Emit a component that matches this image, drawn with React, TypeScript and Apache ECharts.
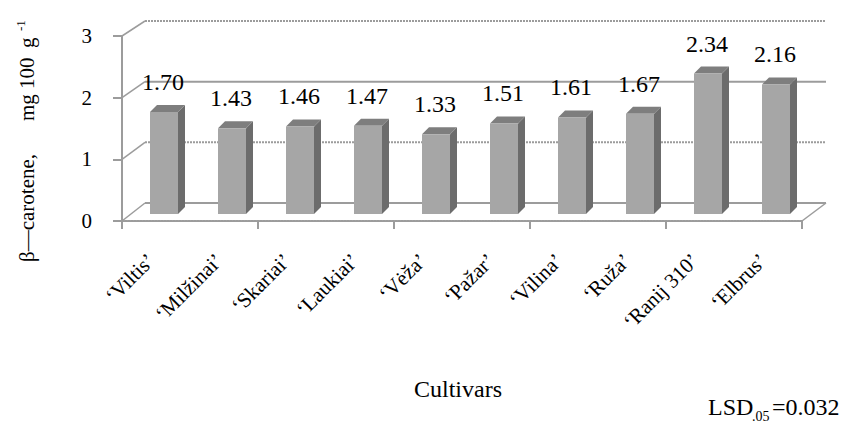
import React, { useEffect, useRef } from "react";
import * as echarts from "echarts";

const cultivars = [
  "‘Viltis’",
  "‘Milžinai’",
  "‘Skariai’",
  "‘Laukiai’",
  "‘Vėža’",
  "‘Pažar’",
  "‘Vilina’",
  "‘Ruža’",
  "‘Ranij 310’",
  "‘Elbrus’",
];
const betaCarotene = [1.7, 1.43, 1.46, 1.47, 1.33, 1.51, 1.61, 1.67, 2.34, 2.16];
const yTicks = [0, 1, 2, 3];
const xTitle = "Cultivars";
const lsdText = ["LSD", ".05", "=0.032"];

const SERIF = "Liberation Serif";

export default function App() {
  const ref = useRef<HTMLDivElement>(null);

  useEffect(() => {
    if (!ref.current) return;
    const chart = echarts.init(ref.current, null, { renderer: "svg" });

    const gray = "#9c9c9c";

    const frameRender = (params: any, api: any) => {
      const v = api.value(1);
      const p = api.coord([0, v]);
      const cs = params.coordSys;
      const y = p[1];
      const left = cs.x;
      const right = cs.x + cs.width;
      const dy = 18 - v;
      const dashed = v === 3 || v === 1;
      const children: any[] = [
        {
          type: "line",
          shape: { x1: left, y1: y, x2: right, y2: y },
          style: { stroke: gray, lineWidth: 2, lineDash: dashed ? [2, 1] : null },
        },
        {
          type: "line",
          shape: { x1: left, y1: y, x2: left - 23, y2: y + dy },
          style: { stroke: gray, lineWidth: 1.5 },
        },
      ];
      if (v === 0) {
        children.push({
          type: "line",
          shape: { x1: right, y1: y, x2: right - 24, y2: y + dy },
          style: { stroke: gray, lineWidth: 1.5 },
        });
      }
      return { type: "group", children };
    };

    const barRender = (params: any, api: any) => {
      const i = api.value(0);
      const v = api.value(1);
      const base = api.coord([i, 0]);
      const top = api.coord([i, v]);
      const cx = base[0];
      const hw = 14;
      const d = 7;
      const yb = base[1];
      const yt = top[1];
      return {
        type: "group",
        children: [
          {
            type: "polygon",
            shape: {
              points: [
                [cx + hw, yt],
                [cx + hw + d, yt - d],
                [cx + hw + d, yb - d],
                [cx + hw, yb],
              ],
            },
            style: { fill: "#6c6c6c" },
          },
          {
            type: "polygon",
            shape: {
              points: [
                [cx - hw, yt],
                [cx - hw + d, yt - d],
                [cx + hw + d, yt - d],
                [cx + hw, yt],
              ],
            },
            style: { fill: "#7e7e7e" },
          },
          {
            type: "rect",
            shape: { x: cx - hw, y: yt, width: hw * 2, height: yb - yt },
            style: { fill: "#a6a6a6" },
          },
          {
            type: "text",
            style: {
              text: v.toFixed(2),
              x: cx - 1,
              y: yt - d - 23,
              align: "center",
              verticalAlign: "middle",
              textAlign: "center",
              textVerticalAlign: "middle",
              fontFamily: SERIF,
              fontSize: 24,
              fill: "#000",
            },
          },
        ],
      };
    };

    const catLabelRender = (params: any, api: any) => {
      const i = api.value(0);
      const p = api.coord([i, 0]);
      return {
        type: "text",
        x: p[0] - 5,
        y: p[1] + 36,
        rotation: Math.PI / 4,
        style: {
          text: cultivars[i],
          align: "right",
          verticalAlign: "middle",
          textAlign: "right",
          textVerticalAlign: "middle",
          fontFamily: SERIF,
          fontSize: 21,
          fill: "#000",
        },
      };
    };

    const rotText = (text: string, x: number, y: number, size: number) => ({
      type: "text",
      x,
      y,
      rotation: Math.PI / 2,
      style: {
        text,
        align: "left",
        verticalAlign: "middle",
        textAlign: "left",
        textVerticalAlign: "middle",
        fontFamily: SERIF,
        fontSize: size,
        fill: "#000",
      },
    });

    const hText = (text: string, x: number, y: number, size: number, align = "left") => ({
      type: "text",
      x,
      y,
      style: {
        text,
        align,
        verticalAlign: "middle",
        textAlign: align,
        textVerticalAlign: "middle",
        fontFamily: SERIF,
        fontSize: size,
        fill: "#000",
      },
    });

    const option: any = {
      animation: false,
      backgroundColor: "#ffffff",
      textStyle: { fontFamily: SERIF },
      grid: [
        { left: 122, top: 36, width: 680, height: 185 },
        { left: 145, top: 21, width: 681, height: 182 },
        { left: 130, top: 34, width: 680, height: 180 },
      ],
      xAxis: [
        {
          type: "category",
          gridIndex: 0,
          data: cultivars,
          axisLine: { show: true, lineStyle: { color: gray, width: 2, type: [2, 1] } },
          axisTick: { show: true, length: 8, lineStyle: { color: gray, width: 2 } },
          axisLabel: { show: false },
          splitLine: { show: false },
        },
        { type: "category", gridIndex: 1, data: cultivars, show: false },
        { type: "category", gridIndex: 2, data: cultivars, show: false },
      ],
      yAxis: [
        {
          type: "value",
          gridIndex: 0,
          min: 0,
          max: 3,
          interval: 1,
          axisLine: { show: true, lineStyle: { color: gray, width: 2 } },
          axisTick: { show: true, length: 9, lineStyle: { color: gray, width: 2 } },
          axisLabel: { margin: 30, fontSize: 21, fontFamily: SERIF, color: "#000" },
          splitLine: { show: false },
        },
        { type: "value", gridIndex: 1, min: 0, max: 3, interval: 1, show: false, splitLine: { show: false } },
        { type: "value", gridIndex: 2, min: 0, max: 3, interval: 1, show: false, splitLine: { show: false } },
      ],
      series: [
        {
          type: "custom",
          name: "frame",
          xAxisIndex: 1,
          yAxisIndex: 1,
          z: 1,
          data: yTicks.map((v) => [0, v]),
          renderItem: frameRender,
          silent: true,
        },
        {
          type: "custom",
          name: "β-carotene",
          xAxisIndex: 2,
          yAxisIndex: 2,
          z: 3,
          data: betaCarotene.map((v, i) => [i, v]),
          encode: { x: 0, y: 1 },
          renderItem: barRender,
        },
        {
          type: "custom",
          name: "labels",
          xAxisIndex: 0,
          yAxisIndex: 0,
          z: 3,
          data: cultivars.map((_, i) => [i, 0]),
          encode: { x: 0, y: 1 },
          renderItem: catLabelRender,
          silent: true,
        },
      ],
      graphic: [
        rotText("β—carotene,", 27, 262, 21),
        rotText("mg", 27, 121, 21),
        rotText("100", 27, 89, 21),
        rotText("g", 27, 48, 21),
        rotText("-1", 20, 31, 13),
        hText(xTitle, 458, 389, 24, "center"),
        hText(lsdText[0], 708, 407, 24),
        hText(lsdText[1], 752, 416, 14),
        hText(lsdText[2], 772, 407, 24),
      ],
    };

    chart.setOption(option);
    return () => chart.dispose();
  }, []);

  return (
    <div
      ref={ref}
      style={{ position: "fixed", left: 0, top: 0, width: 852, height: 429, background: "#fff" }}
    />
  );
}
